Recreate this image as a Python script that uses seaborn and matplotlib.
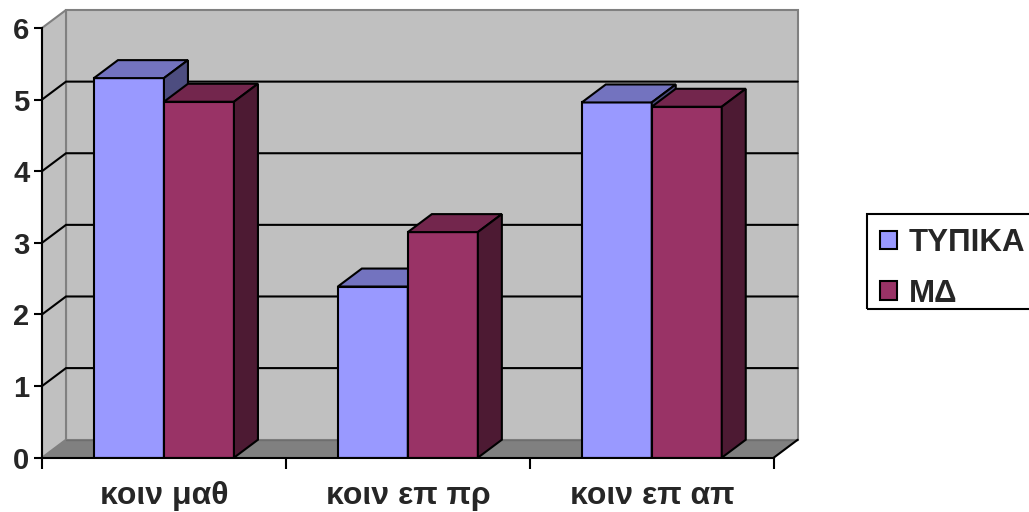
import matplotlib
matplotlib.use("Agg")
import matplotlib.pyplot as plt
from matplotlib.patches import Polygon, Rectangle, Patch
import pandas as pd
import seaborn as sns

# --- data ---
categories = ["κοιν μαθ", "κοιν επ πρ", "κοιν επ απ"]
series_names = ["ΤΥΠΙΚΑ", "ΜΔ"]
typika = [5.3, 2.39, 4.96]
md = [4.97, 3.15, 4.9]
yticks = [0, 1, 2, 3, 4, 5, 6]

# --- colours (front, top, side shading per series) ---
front_colors = ["#9999FF", "#993366"]
top_colors = ["#7373BF", "#73264D"]
side_colors = ["#4D4D80", "#4D1A33"]
wall_color = "#C0C0C0"
floor_color = "#808080"
wall_edge = "#808080"

df = pd.DataFrame({
    "cat": categories * 2,
    "group": [series_names[0]] * len(categories) + [series_names[1]] * len(categories),
    "value": typika + md,
})

sns.set_theme(style="white")
plt.rcParams["font.family"] = ["Liberation Sans", "DejaVu Sans"]

W, H = 1029, 512
fig = plt.figure(figsize=(W / 100, H / 100), dpi=100)
fig.patch.set_facecolor("white")
ax = fig.add_axes([42 / W, 54.3 / H, 755.7 / W, 447.7 / H])

# pseudo-3D depth offsets (category units / value units)
DX = 24 / 243.9
DY = 18 / 71.7
X0, X1 = -0.5, len(categories) - 0.5
YMAX = yticks[-1]
LW = 1.5

sns.barplot(data=df, x="cat", y="value", hue="group", palette=front_colors,
            width=0.574, saturation=1, edgecolor="black", linewidth=LW,
            legend=False, ax=ax)

# extrude each drawn bar: top face and right side face
for j, cont in enumerate(ax.containers):
    for bar in cont:
        x, w, h = bar.get_x(), bar.get_width(), bar.get_height()
        bar.set_zorder(3 + j)
        top = Polygon([(x, h), (x + w, h), (x + w + DX, h + DY), (x + DX, h + DY)],
                      closed=True, facecolor=top_colors[j], edgecolor="black",
                      linewidth=LW, zorder=3 + j, joinstyle="miter")
        side = Polygon([(x + w, 0), (x + w + DX, DY), (x + w + DX, h + DY), (x + w, h)],
                       closed=True, facecolor=side_colors[j], edgecolor="black",
                       linewidth=LW, zorder=3 + j, joinstyle="miter")
        ax.add_patch(top)
        ax.add_patch(side)

# walls and floor
ax.add_patch(Rectangle((X0 + DX, DY), X1 - X0, YMAX, facecolor=wall_color,
                       edgecolor=wall_edge, linewidth=LW, zorder=0, clip_on=False))
ax.add_patch(Polygon([(X0, 0), (X0 + DX, DY), (X0 + DX, YMAX + DY), (X0, YMAX)],
                     closed=True, facecolor=wall_color, edgecolor=wall_edge,
                     linewidth=LW, zorder=0, clip_on=False))
ax.add_patch(Polygon([(X0, 0), (X1, 0), (X1 + DX, DY), (X0 + DX, DY)],
                     closed=True, facecolor=floor_color, edgecolor="none",
                     zorder=0.5, clip_on=False))
ax.plot([X0 + DX, X1 + DX], [DY, DY], color="#6E6E6E", lw=1, zorder=0.6)
ax.plot([X1, X1 + DX], [0, DY], color="black", lw=LW, zorder=1, clip_on=False)

# gridlines across side wall and back wall
for v in yticks[1:-1]:
    ax.plot([X0, X0 + DX, X1 + DX], [v, v + DY, v + DY], color="black", lw=LW,
            zorder=1, solid_joinstyle="miter", clip_on=False)

ax.set_xlim(X0, X1 + DX)
ax.set_ylim(0, YMAX + DY)

for s in ("top", "right"):
    ax.spines[s].set_visible(False)
ax.spines["left"].set_bounds(0, YMAX)
ax.spines["bottom"].set_bounds(X0, X1)
for s in ("left", "bottom"):
    ax.spines[s].set_color("black")
    ax.spines[s].set_linewidth(LW)
    ax.spines[s].set_zorder(6)

ax.set_yticks(yticks)
ax.set_yticklabels([str(v) for v in yticks], fontsize=21, fontweight="bold")
ax.tick_params(axis="y", left=True, direction="out", length=6, width=LW,
               color="black", pad=3)

ax.set_xticks([X0 + i for i in range(len(categories) + 1)])
ax.set_xticklabels([])
ax.set_xticks(range(len(categories)), minor=True)
ax.set_xticklabels(categories, minor=True, fontsize=23, fontweight="bold")
ax.tick_params(axis="x", which="major", bottom=True, direction="out", length=8,
               width=LW, color="black")
ax.tick_params(axis="x", which="minor", bottom=True, length=0, pad=17)
ax.set_xlabel("")
ax.set_ylabel("")
ax.set_facecolor("none")

# legend: entries without frame, plus a boxed outline running off the right edge
handles = [Patch(facecolor=c, edgecolor="black", linewidth=LW) for c in front_colors]
leg = fig.legend(handles, series_names, loc="upper left",
                 bbox_to_anchor=(880 / W, 1 - 228 / H), frameon=False,
                 prop={"size": 22.5, "weight": "bold"}, handlelength=0.55,
                 handleheight=0.55, handletextpad=0.38, borderpad=0,
                 labelspacing=0.66, borderaxespad=0)
fig.patches.append(Rectangle((867 / W, 1 - 309 / H), 180 / W, 95 / H,
                             transform=fig.transFigure, facecolor="none",
                             edgecolor="black", linewidth=LW))

fig.savefig("out.png", dpi=100, facecolor="white")
